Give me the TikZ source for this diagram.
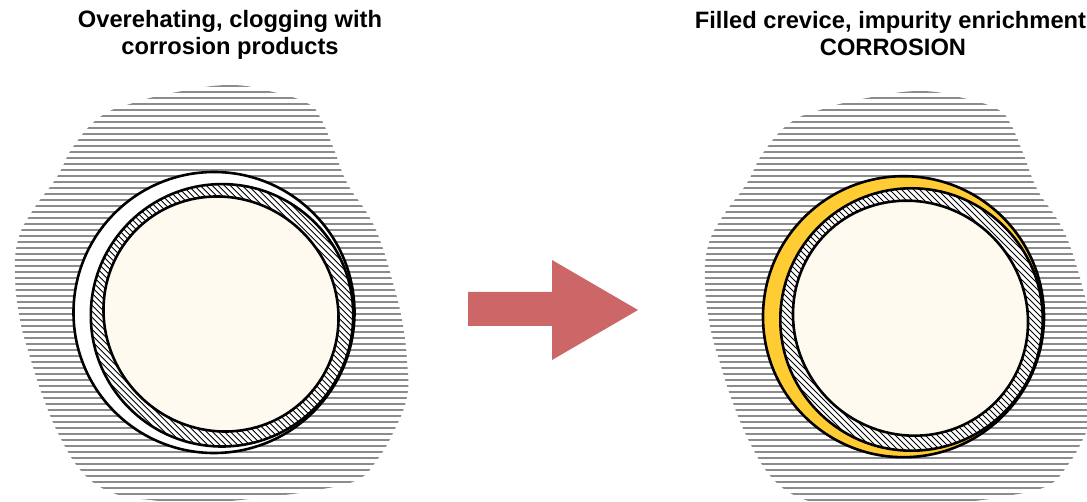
\documentclass[tikz,border=0pt]{standalone}
\usepackage{fontspec}
\setmainfont{Liberation Sans}
\definecolor{gapyellow}{HTML}{FFCC33}
\definecolor{borecream}{HTML}{FFFAF0}
\definecolor{arrowred}{HTML}{CD6666}

\begin{document}
\begin{tikzpicture}[
  x=1pt, y=-1pt,
  ttl/.style   = {font=\fontsize{23.7}{27}\selectfont\bfseries, align=center},
  ring/.style  = {draw=black, line width=2.6pt},
  hatch/.style = {line width=0.8pt, black},
  sludge/.style = {line width=2.2pt, black!45},
]

\useasboundingbox (0,0) rectangle (1087,502);

\def\blob{plot[smooth cycle,tension=0.7] coordinates {
  (230,85) (177,92) (133,103) (100,117) (73,147) (57,177) (33,210)
  (18,240) (15,277) (20,320) (30,357) (43,397) (60,437) (83,473)
  (113,493) (150,500) (200,503) (267,497) (317,490) (357,480) (377,460)
  (393,433) (407,397) (407,360) (402,320) (393,283) (380,240) (367,213)
  (347,183) (333,147) (320,117) (307,103) (273,92)}}

% deposit around the tube, the same outline on both sides
\foreach \bx/\by in {0/0,690/6}{
  \begin{scope}
    \clip (0,0) rectangle (1087,502);
    \clip[shift={(\bx,\by)}] \blob;
    \foreach \k in {0,...,70}{
      \draw[sludge] (\bx,{\by+86+6*\k}) -- (\bx+420,{\by+86+6*\k});
    }
  \end{scope}
}

% tube in its support plate
\foreach \px/\py/\gapfill in {0/0/white,689.5/4.2/gapyellow}{
  \begin{scope}[shift={(\px,\py)}]
    \path[ring,fill=\gapfill] (214,312.5) circle (140.5);
    \fill[white] (222,315.3) circle (131.2);
    \begin{scope}
      \clip (222,315.3) circle (131.2);
      \foreach \d in {-300,-294,...,300}{
        \draw[hatch] (222+\d-140,315.3-140) -- (222+\d+140,315.3+140);
      }
    \end{scope}
    \draw[ring] (222,315.3) circle (131.2);
    \path[ring,fill=borecream,rotate around={-45:(221,314)}] (221,314) ellipse (119.5 and 115.5);
  \end{scope}
}

\fill[arrowred] (468,292) -- (552,292) -- (552,260) -- (638,310)
  -- (552,360) -- (552,326) -- (468,326) -- cycle;

\node[ttl] (ttlA) at (230,35) {Overehating, clogging with\\corrosion products};
\node[ttl] (ttlB) at (890.5,34) {Filled crevice, impurity enrichment\\\hspace*{5pt}CORROSION};

\end{tikzpicture}
\end{document}
